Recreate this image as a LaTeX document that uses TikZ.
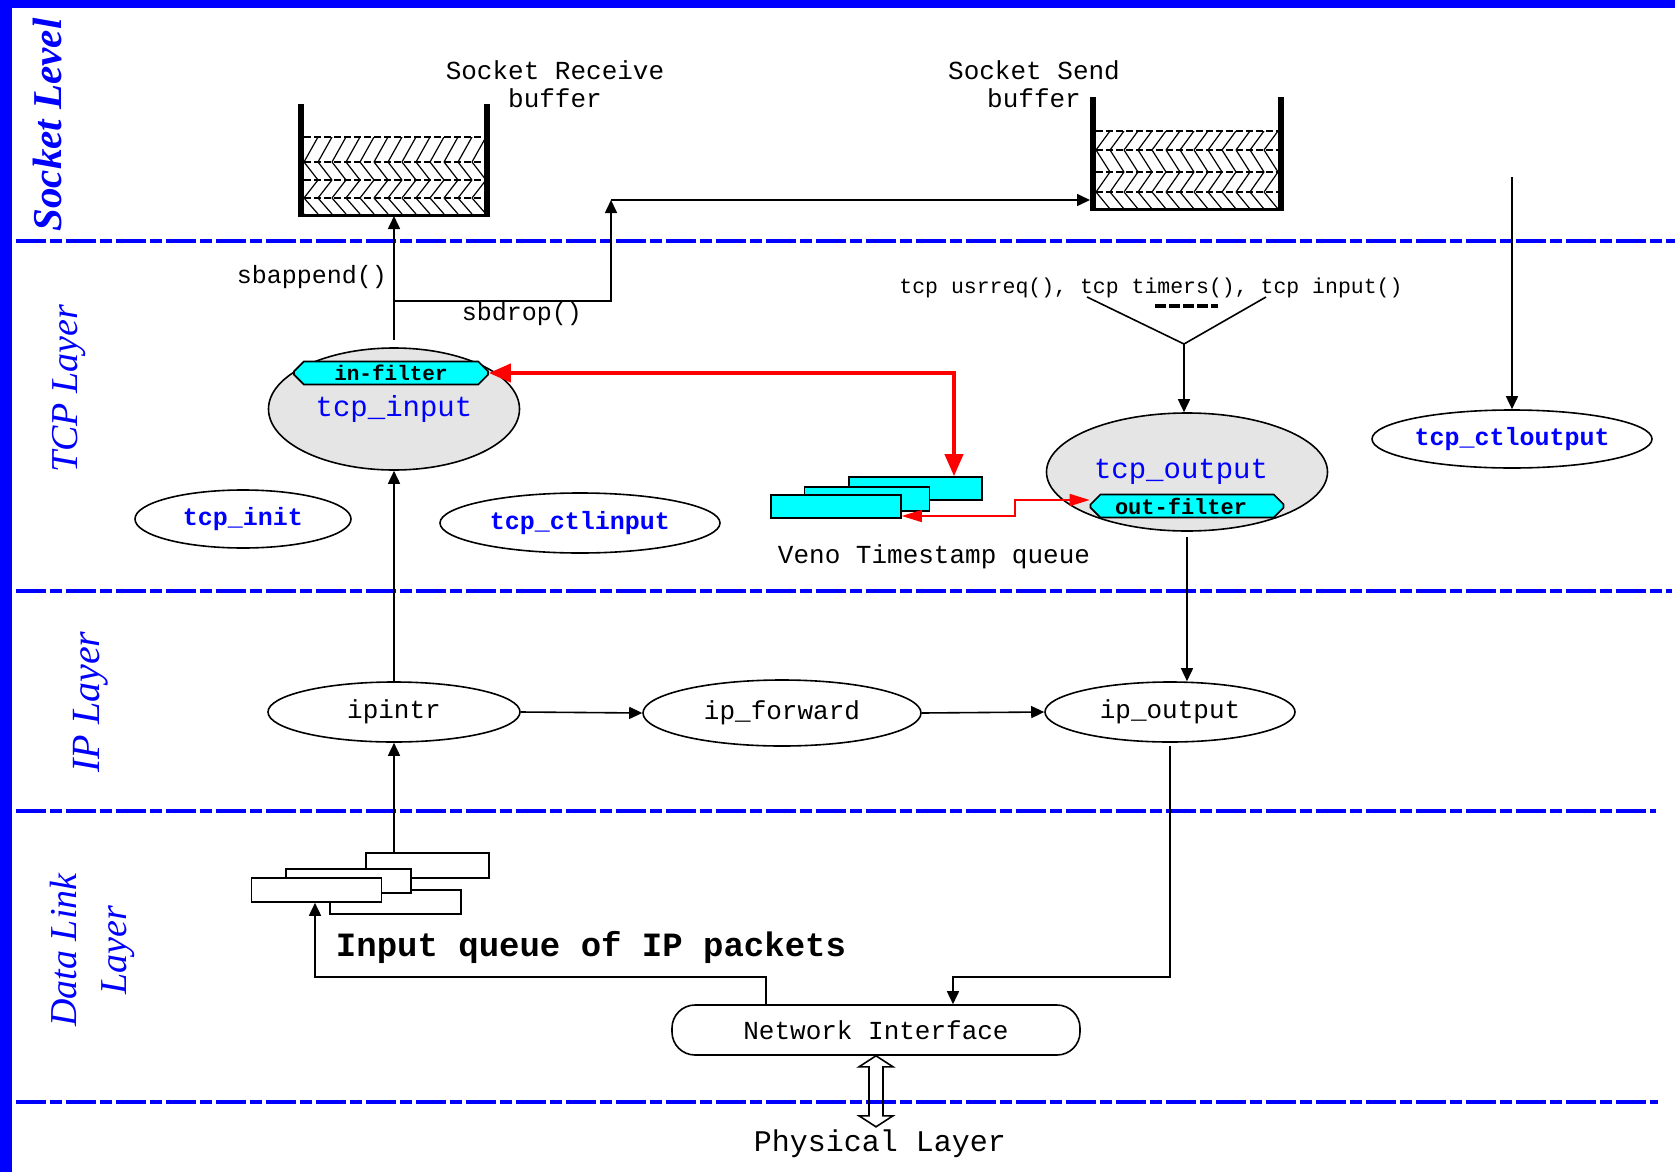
\documentclass[tikz,border=0pt]{standalone}
\usepackage{fontspec}
\setmonofont{Liberation Mono}
\newfontfamily\layfont{Liberation Serif}
\usetikzlibrary{arrows.meta,shapes.geometric,shapes.misc}
\definecolor{bl}{RGB}{0,0,255}
\definecolor{cy}{RGB}{0,255,255}
\definecolor{gr}{RGB}{229,229,229}
\definecolor{rd}{RGB}{255,0,0}
\tikzset{
 layerline/.style={bl, line width=4pt, dash pattern=on 30pt off 4pt on 12pt off 4pt},
 laytext/.style={bl, rotate=90, font=\layfont\itshape\fontsize{38}{50}\selectfont, align=center, inner sep=0},
 txt/.style={font=\ttfamily\fontsize{26}{28}\selectfont, inner sep=0, align=center},
 proc/.style={ellipse, draw, line width=1.6pt, inner sep=0, fill=white, font=\ttfamily\fontsize{26}{30}\selectfont},
 bluep/.style={proc, text=bl, font=\ttfamily\bfseries\fontsize{25}{30}\selectfont},
 bigp/.style={proc, fill=gr, text=bl, font=\ttfamily\fontsize{29}{32}\selectfont},
 filt/.style={chamfered rectangle, chamfered rectangle xsep=7pt, draw, line width=1.6pt, fill=cy, inner sep=0, font=\ttfamily\bfseries\fontsize{21}{24}\selectfont},
 qbox/.style={rectangle, draw, line width=1.6pt, inner sep=0},
 conn/.style={line width=1.6pt, -{Triangle[length=13pt,width=12pt]}},
 plainln/.style={line width=1.6pt},
 redthick/.style={rd, line width=4pt, {Triangle[length=22pt,width=18pt]}-{Triangle[length=22pt,width=18pt]}},
 redthin/.style={rd, line width=1.6pt, {Triangle[length=20pt,width=12pt]}-{Triangle[length=20pt,width=12pt]}},
 wall/.style={line width=6pt},
 hatch/.style={line width=1.2pt},
 hdash/.style={line width=1.2pt, dash pattern=on 7pt off 3pt},
}
\begin{document}
\begin{tikzpicture}[x=1pt,y=-1pt]
\useasboundingbox (0,0) rectangle (1675,1172);
\fill[white] (0,0) rectangle (1675,1172);
\fill[bl] (0,0) rectangle (1675,8);
\fill[bl] (0,0) rectangle (12,1172);
% layer separators
\draw[layerline] (16,241) -- (1675,241);
\draw[layerline] (16,591) -- (1672,591);
\draw[layerline] (16,811) -- (1656,811);
\draw[layerline] (16,1102) -- (1658,1102);
% layer labels
\node[laytext, font=\layfont\bfseries\itshape\fontsize{41}{50}\selectfont] (lsock) at (47,125) {Socket Level};
\node[laytext] (ltcp) at (69,389) {TCP Layer};
\node[laytext, font=\layfont\itshape\fontsize{40}{50}\selectfont] (lip) at (91,702) {IP Layer};
\node[laytext] (ldl) at (92,950) {Data Link\\Layer};
% receive buffer
\begin{scope}
\clip (304,137) rectangle (484,213);
\foreach \x in {276,290,...,500} {
 \draw[hatch] (\x,162) -- ++(14,-25);
 \draw[hatch] (\x,162) -- ++(14,18);
 \draw[hatch] (\x,198) -- ++(14,-18);
 \draw[hatch] (\x,198) -- ++(14,16);
}
\end{scope}
\foreach \y in {137,162,180,198} {\draw[hdash] (304,\y) -- (484,\y);}
\draw[wall] (301,104) -- (301,217);
\draw[wall] (487,104) -- (487,217);
\draw[line width=3pt] (301,215) -- (487,215);
\node[txt] (rbl) at (555,84) {Socket Receive\\buffer};
% send buffer
\begin{scope}
\clip (1096,131) rectangle (1278,208);
\foreach \x in {1068,1082,...,1300} {
 \draw[hatch] (\x,150) -- ++(14,-19);
 \draw[hatch] (\x,150) -- ++(14,22);
 \draw[hatch] (\x,192) -- ++(14,-20);
 \draw[hatch] (\x,192) -- ++(14,17);
}
\end{scope}
\foreach \y in {131,150,172,192} {\draw[hdash] (1096,\y) -- (1278,\y);}
\draw[wall] (1093,97) -- (1093,211);
\draw[wall] (1281,97) -- (1281,211);
\draw[line width=3pt] (1093,209) -- (1281,209);
\node[txt] (sbl) at (1034,84) {Socket Send\\buffer};
% TCP layer nodes
\node[bigp, minimum width=251pt, minimum height=122pt] (tcpin) at (394,409) {tcp\_input};
\node[filt, minimum width=194pt, minimum height=23pt] (inf) at (391,373) {in-filter};
\node[bigp, minimum width=281pt, minimum height=118pt] (tcpout) at (1187,472) {\hspace*{-12pt}tcp\_output};
\node[filt, minimum width=193pt, minimum height=23pt, font=\ttfamily\bfseries\fontsize{22}{24}\selectfont] (outf) at (1187,506) {\hspace*{-12pt}out-filter};
\node[bluep, minimum width=280pt, minimum height=58pt] (ctlout) at (1512,439) {tcp\_ctloutput};
\node[bluep, minimum width=216pt, minimum height=58pt] (tcpinit) at (243,519) {tcp\_init};
\node[bluep, minimum width=280pt, minimum height=60pt] (ctlin) at (580,523) {tcp\_ctlinput};
% Veno queue
\node[qbox, fill=cy, minimum width=133pt, minimum height=23pt] (qa) at (915.5,488.5) {};
\node[qbox, fill=cy, minimum width=125pt, minimum height=24pt] (qb) at (867,499) {};
\node[qbox, fill=cy, minimum width=130pt, minimum height=23pt] (qc) at (836,506.5) {};
\node[txt] (veno) at (934,557) {Veno Timestamp queue};
% labels
\node[txt, font=\ttfamily\fontsize{25}{28}\selectfont] (sbapp) at (312,277) {sbappend()};
\node[txt, font=\ttfamily\fontsize{25}{28}\selectfont] (sbdrop) at (522,314) {sbdrop()};
\node[txt, font=\ttfamily\fontsize{21.5}{24}\selectfont] (calls) at (1151,288) {tcp usrreq(), tcp timers(), tcp input()};
\draw[line width=4pt, dash pattern=on 11pt off 3pt] (1155,306) -- (1218,306);
% IP layer
\node[proc, minimum width=252pt, minimum height=60pt] (ipintr) at (394,712) {ipintr};
\node[proc, minimum width=278pt, minimum height=66pt] (ipfwd) at (782,713) {ip\_forward};
\node[proc, minimum width=250pt, minimum height=60pt] (ipout) at (1170,712) {ip\_output};
% data link
\node[qbox, fill=white, minimum width=131pt, minimum height=24pt] (iq3) at (395.5,902) {};
\node[qbox, fill=white, minimum width=123pt, minimum height=25pt] (iq1) at (427.5,865.5) {};
\node[qbox, fill=white, minimum width=125pt, minimum height=24pt] (iq2) at (348.5,881) {};
\node[qbox, fill=white, minimum width=130pt, minimum height=24pt] (iq4) at (316.5,890) {};
\node[txt, font=\ttfamily\bfseries\fontsize{34}{36}\selectfont] (iqlbl) at (591,947) {Input queue of IP packets};
\node[rectangle, rounded corners=23pt, draw, line width=1.6pt, minimum width=408pt, minimum height=50pt, inner sep=0, font=\ttfamily\fontsize{26}{30}\selectfont] (ni) at (876,1030) {Network Interface};
\node[txt, font=\ttfamily\fontsize{30}{32}\selectfont] (phys) at (880,1144) {Physical Layer};
% coordinates
\coordinate (rbuf) at (394,216);
\coordinate (sbuf) at (1090,200);
\coordinate (jn) at (394,301);
\coordinate (sc) at (611,301);
\coordinate (sd) at (611,200);
\coordinate (rc) at (954,373);
\coordinate (r1) at (1015,516);
\coordinate (r2) at (1015,500);
\coordinate (v1) at (1087,297);
\coordinate (v2) at (1184,344);
\coordinate (v3) at (1266,297);
\coordinate (ctlsrc) at (1512,177);
\coordinate (m2) at (953,977);
\coordinate (k1) at (766,977);
\coordinate (k2) at (315,977);
% connectors
\draw[conn] ([yshift=7pt]tcpin.north) -- (rbuf);
\draw[conn] (jn) -- (sc) -- (sd);
\draw[conn] (sd) -- (sbuf);
\draw[redthick] (inf.east) -| (qa.north -| rc);
\draw[redthin] (qc.east |- r1) -- (r1) -- (r2) -- (r2 -| outf.west);
\draw[plainln] (v1) -- (v2) -- (v3);
\draw[conn] (v2) -- (v2 |- tcpout.north);
\draw[conn] (ctlsrc) -- (ctlout.north);
\draw[conn] (ipintr.north) -- (tcpin.south);
\draw[conn] (ipintr.east) -- (ipfwd.west);
\draw[conn] (ipfwd.east) -- (ipout.west);
\draw[conn] ([yshift=-5pt]tcpout.south) -- (tcpout.south |- ipout.north);
\draw[conn] (ipintr.south |- iq1.north) -- (ipintr.south);
\draw[conn] ([yshift=-3pt]ipout.south) |- (m2) -- (m2 |- ni.north);
\draw[conn] (k1 |- ni.north) -- (k1) -- (k2) -- (k2 |- iq4.south);
\draw[line width=1.6pt] (ni.south) -- ++(-17,11) -- ++(10,0) -- ++(0,49) -- ++(-10,0) -- ++(17,11) -- ++(17,-11) -- ++(-10,0) -- ++(0,-49) -- ++(10,0) -- cycle;
\end{tikzpicture}
\end{document}
